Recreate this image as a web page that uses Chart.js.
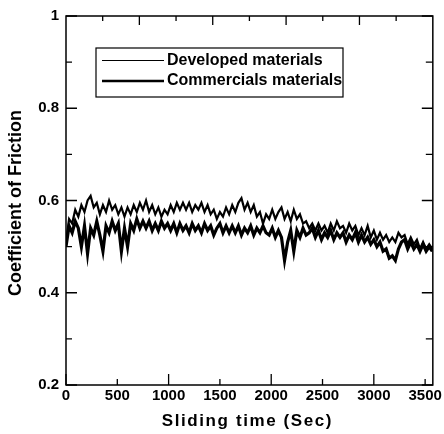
<!DOCTYPE html>
<html>
<head>
<meta charset="utf-8">
<script src="https://cdn.jsdelivr.net/npm/chart.js@4.4.1/dist/chart.umd.min.js"></script>
<style>
  html, body { margin: 0; padding: 0; background: #fff; }
  #c { display: block; }
</style>
</head>
<body>
<canvas id="c" width="444" height="434"></canvas>
<script>
// ---- data ----
const seriesNames = ['Developed materials', 'Commercials materials'];
const xTitle = 'Sliding time (Sec)';
const yTitle = 'Coefficient of Friction';
const xTickValues = [0, 500, 1000, 1500, 2000, 2500, 3000, 3500];
const yTickLabels = ['0.2', '0.4', '0.6', '0.8', '1'];

const times = [
  0, 30, 60, 90, 120, 150, 180, 210, 240, 270,
  300, 330, 360, 390, 420, 450, 480, 510, 540, 570,
  600, 630, 660, 690, 720, 750, 780, 810, 840, 870,
  900, 930, 960, 990, 1020, 1050, 1080, 1110, 1140, 1170,
  1200, 1230, 1260, 1290, 1320, 1350, 1380, 1410, 1440, 1470,
  1500, 1530, 1560, 1590, 1620, 1650, 1680, 1710, 1740, 1770,
  1800, 1830, 1860, 1890, 1920, 1950, 1980, 2010, 2040, 2070,
  2100, 2130, 2160, 2190, 2220, 2250, 2280, 2310, 2340, 2370,
  2400, 2430, 2460, 2490, 2520, 2550, 2580, 2610, 2640, 2670,
  2700, 2730, 2760, 2790, 2820, 2850, 2880, 2910, 2940, 2970,
  3000, 3030, 3060, 3090, 3120, 3150, 3180, 3210, 3240, 3270,
  3300, 3330, 3360, 3390, 3420, 3450, 3480, 3510, 3540, 3570
];

const developed = [
  0.51, 0.56, 0.55, 0.58, 0.565, 0.59, 0.575, 0.60, 0.61, 0.585,
  0.595, 0.57, 0.59, 0.575, 0.60, 0.58, 0.59, 0.57, 0.585, 0.565,
  0.585, 0.57, 0.59, 0.575, 0.595, 0.58, 0.60, 0.575, 0.59, 0.57,
  0.585, 0.565, 0.58, 0.57, 0.59, 0.575, 0.595, 0.58, 0.595, 0.58,
  0.595, 0.575, 0.59, 0.58, 0.595, 0.575, 0.59, 0.57, 0.58, 0.56,
  0.575, 0.565, 0.585, 0.57, 0.59, 0.575, 0.595, 0.605, 0.58, 0.595,
  0.575, 0.59, 0.565, 0.575, 0.55, 0.57, 0.56, 0.58, 0.56, 0.575,
  0.585, 0.56, 0.575, 0.555, 0.58, 0.56, 0.57, 0.55, 0.555, 0.54,
  0.55, 0.535, 0.55, 0.535, 0.545, 0.53, 0.55, 0.535, 0.555, 0.54,
  0.545, 0.53, 0.55, 0.535, 0.545, 0.525, 0.54, 0.525, 0.545, 0.52,
  0.535, 0.515, 0.53, 0.515, 0.525, 0.51, 0.52, 0.51, 0.53, 0.52,
  0.525, 0.505, 0.52, 0.505, 0.515, 0.495, 0.51, 0.495, 0.505, 0.495
];

const commercial = [
  0.50, 0.545, 0.53, 0.555, 0.54, 0.50, 0.545, 0.485, 0.54, 0.525,
  0.555, 0.525, 0.49, 0.545, 0.53, 0.555, 0.535, 0.55, 0.49, 0.54,
  0.50, 0.55, 0.535, 0.56, 0.54, 0.555, 0.54, 0.555, 0.535, 0.55,
  0.535, 0.555, 0.54, 0.55, 0.535, 0.55, 0.53, 0.55, 0.535, 0.545,
  0.53, 0.55, 0.535, 0.545, 0.53, 0.55, 0.535, 0.545, 0.525, 0.54,
  0.55, 0.53, 0.545, 0.53, 0.545, 0.53, 0.545, 0.525, 0.54, 0.53,
  0.545, 0.525, 0.54, 0.53, 0.545, 0.53, 0.525, 0.54, 0.52, 0.535,
  0.52, 0.47, 0.51, 0.535, 0.49, 0.535, 0.52, 0.54, 0.525, 0.53,
  0.54, 0.52, 0.535, 0.515, 0.53, 0.52, 0.535, 0.515, 0.53, 0.52,
  0.53, 0.51, 0.525, 0.515, 0.53, 0.51, 0.525, 0.51, 0.52, 0.505,
  0.515, 0.50, 0.51, 0.49, 0.495, 0.475, 0.48, 0.47, 0.495, 0.51,
  0.515, 0.495, 0.51, 0.495, 0.505, 0.49, 0.505, 0.49, 0.50, 0.49
];

// ---- styles ----
const TICK_FONT = { family: '"Liberation Sans Narrow", "Arial Narrow", "Liberation Sans", Arial, sans-serif', size: 15, weight: 'bold' };
const TITLE_FAMILY = '"Liberation Sans", Arial, sans-serif';

const toPts = (xs, ys) => xs.map((x, i) => ({ x: x, y: ys[i] }));

const framePlugin = {
  id: 'frame',
  afterDatasetsDraw(chart) {
    const ctx = chart.ctx;
    const a = chart.chartArea;
    const xs = chart.scales.x, ys = chart.scales.y;
    ctx.save();
    ctx.strokeStyle = '#000';
    ctx.lineWidth = 1.5;
    ctx.strokeRect(a.left, a.top, a.right - a.left, a.bottom - a.top);
    ctx.lineWidth = 1.3;
    ctx.beginPath();
    // y ticks (left & right, inward)
    ys.ticks.forEach(t => {
      const k = Math.round(t.value * 10);
      const py = ys.getPixelForValue(t.value);
      const major = k % 2 === 0;
      const lenL = major ? 11 : 6;
      const lenR = major ? 11 : 7;
      ctx.moveTo(a.left, py); ctx.lineTo(a.left + lenL, py);
      ctx.moveTo(a.right, py); ctx.lineTo(a.right - lenR, py);
    });
    // x ticks bottom (inward)
    xs.ticks.forEach(t => {
      const px = xs.getPixelForValue(t.value);
      const major = Math.round(t.value) % 1000 === 0;
      const len = major ? 11 : 6;
      ctx.moveTo(px, a.bottom); ctx.lineTo(px, a.bottom - len);
    });
    // top ticks: ten divisions of the axis
    for (let k = 1; k < 10; k++) {
      const v = xs.min + (xs.max - xs.min) * k / 10;
      const px = xs.getPixelForValue(v);
      const len = (k % 2 === 1) ? 5 : 9;
      ctx.moveTo(px, a.top); ctx.lineTo(px, a.top + len);
    }
    ctx.stroke();

    // axis titles
    ctx.fillStyle = '#000';
    ctx.textAlign = 'center';
    ctx.textBaseline = 'middle';
    ctx.font = 'bold 17px ' + TITLE_FAMILY;
    try { ctx.letterSpacing = '1.6px'; } catch (e) {}
    ctx.fillText(xTitle, (a.left + a.right) / 2 - 2, 421);
    try { ctx.letterSpacing = '0px'; } catch (e) {}
    ctx.save();
    ctx.translate(16, 203);
    ctx.rotate(-Math.PI / 2);
    ctx.font = 'bold 18px ' + TITLE_FAMILY;
    ctx.fillText(yTitle, 0, 0);
    ctx.restore();

    // legend
    const bx = 96, by = 48, bw = 247, bh = 49;
    ctx.fillStyle = '#fff';
    ctx.fillRect(bx, by, bw, bh);
    ctx.lineWidth = 1.2;
    ctx.strokeRect(bx, by, bw, bh);
    const rows = [
      { y: 60.5, w: 1.2, label: chart.data.datasets[0].label },
      { y: 81, w: 2.6, label: chart.data.datasets[1].label }
    ];
    ctx.font = 'bold 16px ' + TITLE_FAMILY;
    ctx.textAlign = 'left';
    ctx.fillStyle = '#000';
    rows.forEach(r => {
      ctx.lineWidth = r.w;
      ctx.beginPath();
      ctx.moveTo(102, r.y); ctx.lineTo(164, r.y);
      ctx.stroke();
      ctx.fillText(r.label, 167, r.y);
    });
    ctx.restore();
  }
};

new Chart(document.getElementById('c'), {
  type: 'line',
  data: {
    datasets: [
      { label: seriesNames[0], data: toPts(times, developed), borderColor: '#000', borderWidth: 2.2, pointRadius: 0, tension: 0, fill: false },
      { label: seriesNames[1], data: toPts(times, commercial), borderColor: '#000', borderWidth: 3.2, pointRadius: 0, tension: 0, fill: false }
    ]
  },
  options: {
    responsive: false,
    animation: false,
    devicePixelRatio: 1,
    layout: { padding: { top: 11, right: 9, left: 0, bottom: 0 } },
    plugins: { legend: { display: false }, tooltip: { enabled: false } },
    scales: {
      x: {
        type: 'linear', min: 0, max: 3575, position: 'bottom',
        grid: { display: false, drawTicks: false },
        border: { display: false },
        afterBuildTicks: s => { s.ticks = xTickValues.map(v => ({ value: v })); },
        ticks: {
          autoSkip: false, maxRotation: 0, minRotation: 0,
          color: '#000', font: TICK_FONT, padding: 2,
          callback: v => String(v)
        },
        afterFit: s => { s.height = 49; }
      },
      y: {
        type: 'linear', min: 0.2, max: 1,
        grid: { display: false, drawTicks: false },
        border: { display: false },
        ticks: {
          stepSize: 0.1, includeBounds: false, autoSkip: false,
          color: '#000', font: TICK_FONT, padding: 7,
          callback: v => {
            const k = Math.round(v * 10);
            if (k % 2 !== 0) return '';
            return yTickLabels[(k - 2) / 2];
          }
        },
        afterFit: s => { s.width = 66; }
      }
    }
  },
  plugins: [framePlugin]
});
</script>
</body>
</html>
